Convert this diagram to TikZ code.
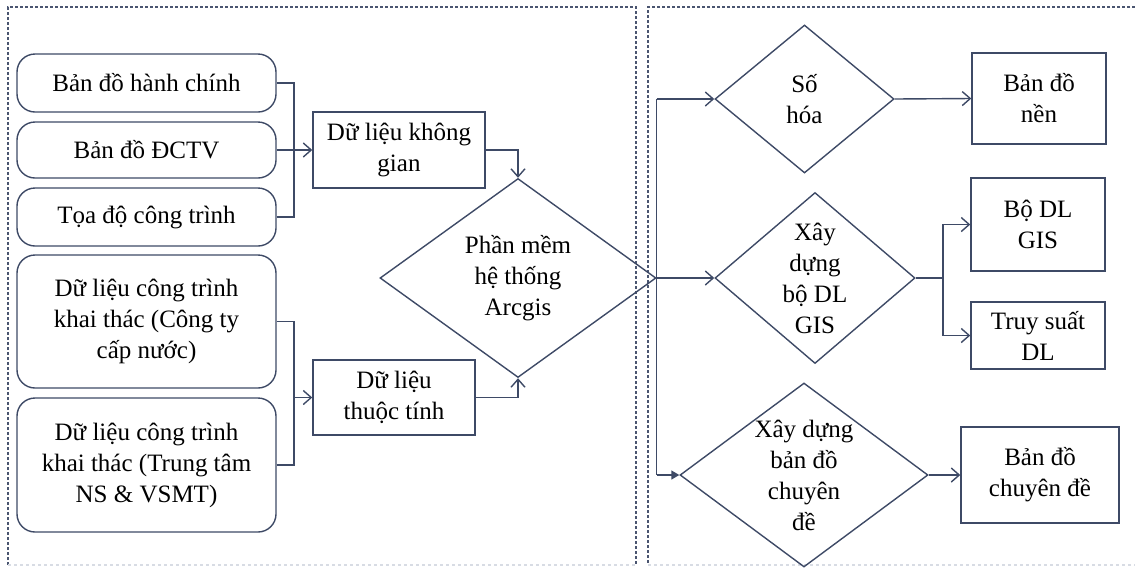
\documentclass[tikz,border=0pt]{standalone}
\usepackage{fontspec}
\setmainfont{Liberation Serif}
\usetikzlibrary{shapes.geometric,arrows.meta}
\definecolor{linecol}{HTML}{3E4A66}
\definecolor{framecol}{HTML}{4A5570}
\definecolor{faintcol}{HTML}{D8DCE4}

\begin{document}
\begin{tikzpicture}[x=0.5pt, y=-0.5pt,
    every node/.style={font=\fontsize{12.5}{15.5}\selectfont, text=black},
    srcbox/.style={rectangle, rounded corners=9pt, draw=linecol, line width=0.7pt,
      minimum width=129.5pt, align=center, inner sep=0pt},
    databox/.style={rectangle, draw=linecol, line width=0.7pt, align=center, inner sep=0pt},
    decision/.style={diamond, draw=linecol, line width=0.7pt, inner sep=0pt},
    txt/.style={align=center},
    wire/.style={draw=linecol, line width=0.7pt},
    link/.style={wire, -{Straight Barb[length=4pt,width=7pt]}},
    solidlink/.style={wire, -{Triangle[length=4pt,width=4.5pt]}},
    frame/.style={draw=framecol, line width=0.6pt, dash pattern=on 1.5pt off 1pt},
    faint/.style={draw=faintcol, line width=0.6pt, dash pattern=on 1.5pt off 1.5pt}
    ]
    \useasboundingbox (0,0) rectangle (1135,569);

    \draw[frame] (8,565) -- (8,7) -- (636,7) -- (636,565);
    \draw[faint] (8,565) -- (636,565);
    \draw[frame] (1135,7) -- (648,7) -- (648,565);
    \draw[faint] (648,565) -- (1135,565);

    \node[srcbox, minimum height=29pt] (bdhc) at (146.5,83) {Bản đồ hành chính};
    \node[srcbox, minimum height=28pt] (bdctv) at (146.5,150) {Bản đồ ĐCTV};
    \node[srcbox, minimum height=29pt] (toado) at (146.5,217) {Tọa độ công trình};
    \node[srcbox, minimum height=66.5pt] (ctcty) at (146.5,321.5) {Dữ liệu công trình\\khai thác (Công ty\\cấp nước)};
    \node[srcbox, minimum height=67pt] (cttt) at (146.5,465) {Dữ liệu công trình\\khai thác (Trung tâm\\NS \& VSMT)};

    \node[databox, minimum width=86pt, minimum height=38pt] (dlkg) at (399,150) {Dữ liệu không\\gian};
    \node[databox, minimum width=81pt, minimum height=37.5pt] (dltt) at (394,397.5) {Dữ liệu\\thuộc tính};

    \node[decision, minimum width=138pt, minimum height=99.5pt,
      label={[txt]center:{Phần mềm\\hệ thống\\Arcgis}}] (arcgis) at (518,278) {};

    \node[decision, minimum width=89.5pt, minimum height=74pt,
      label={[txt]center:{Số\\hóa}}] (sohoa) at (804.5,99) {};
    \node[decision, minimum width=100pt, minimum height=85.5pt,
      label={[txt]center:{Xây\\dựng\\bộ DL\\GIS}}] (xdgis) at (815,278) {};
    \node[decision, minimum width=124pt, minimum height=92pt,
      label={[txt]center:{Xây dựng\\bản đồ\\chuyên\\đề}}] (xdcd) at (804,475) {};

    \node[databox, minimum width=67pt, minimum height=45.5pt] (bdnen) at (1039,98.5) {Bản đồ\\nền};
    \node[databox, minimum width=67pt, minimum height=46.5pt] (bodl) at (1038,224.5) {Bộ DL\\GIS};
    \node[databox, minimum width=67pt, minimum height=33.5pt] (truy) at (1038,335.5) {Truy suất\\DL};
    \node[databox, minimum width=79pt, minimum height=48pt] (bdcd) at (1040,475) {Bản đồ\\chuyên đề};

    \coordinate (jkg) at (294,150);
    \coordinate (jtt) at (294,397.5);
    \coordinate (jgis) at (943,278);

    \draw[wire] (bdhc.east) -| (jkg);
    \draw[wire] (toado.east) -| (jkg);
    \draw[link] (bdctv.east) -- (dlkg.west);
    \draw[wire] (ctcty.east) -| (jtt);
    \draw[wire] (cttt.east) -| (jtt);
    \draw[link] (jtt) -- (dltt.west);
    \draw[link] (dlkg.east) -| (arcgis.north);
    \draw[link] (dltt.east) -| (arcgis.south);

    \draw[wire] (sohoa.west -| arcgis.east) -- (xdcd.west -| arcgis.east);
    \draw[link] (sohoa.west -| arcgis.east) -- (sohoa.west);
    \draw[link] (arcgis.east) -- (xdgis.west);
    \draw[solidlink] (xdcd.west -| arcgis.east) -- (xdcd.west);

    \draw[link] (sohoa.east) -- (bdnen.west);
    \draw[wire] (xdgis.east) -- (jgis);
    \draw[link] (jgis) |- (bodl.west);
    \draw[link] (jgis) |- (truy.west);
    \draw[link] (xdcd.east) -- (bdcd.west);
  \end{tikzpicture}
\end{document}
